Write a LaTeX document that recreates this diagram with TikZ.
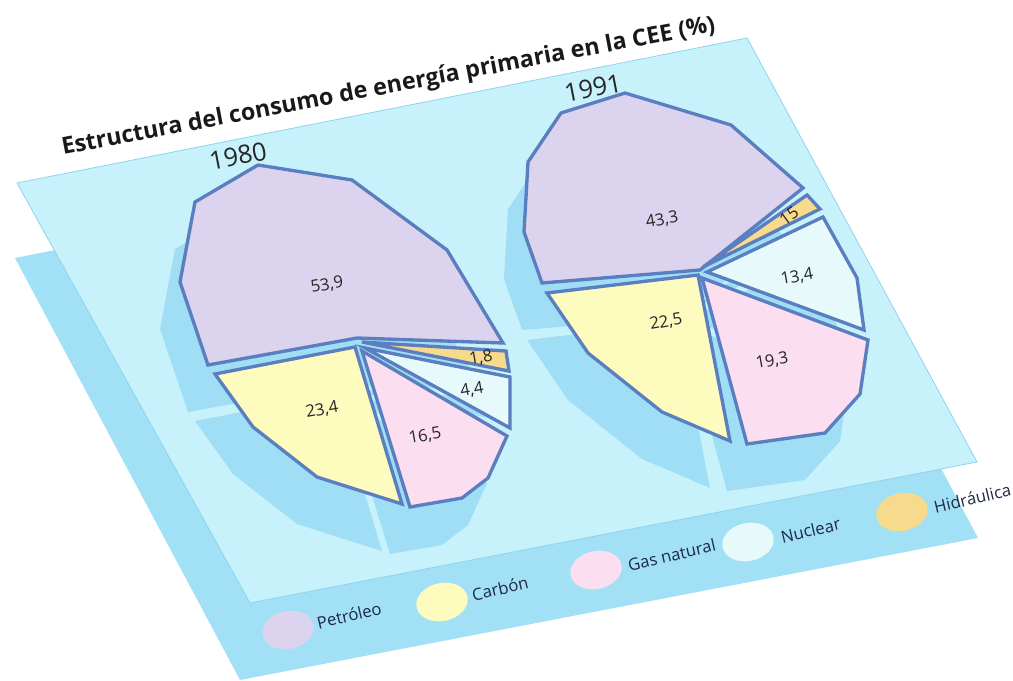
\documentclass[tikz,border=0pt]{standalone}
\usepackage{fontspec}
\setmainfont{Open Sans}
\definecolor{lightpl}{HTML}{C7F2FB}
\definecolor{darkpl}{HTML}{A1E0F5}
\definecolor{shadc}{HTML}{9FDEF5}
\definecolor{edgeb}{HTML}{5A7EBF}
\definecolor{petc}{HTML}{DCD3EE}
\definecolor{carc}{HTML}{FEFBBE}
\definecolor{gasc}{HTML}{FBDFF0}
\definecolor{nucc}{HTML}{E6FAFC}
\definecolor{hidc}{HTML}{F8DA8C}
\definecolor{planeedge}{HTML}{8ED4EE}
\definecolor{navy}{HTML}{1E2A44}
\begin{document}
\begin{tikzpicture}[x=0.75pt,y=-0.75pt,
  slice/.style={draw=edgeb, line width=2.5pt, line join=miter},
  shadow piece/.style={fill=shadc},
  val/.style={font=\fontsize{12.5}{14}\selectfont, text=black!85, rotate=10, inner sep=0pt},
  year/.style={font=\fontsize{19}{22}\selectfont, text=black!85, rotate=11, inner sep=0pt},
  leglabel/.style={font=\fontsize{12.5}{14}\selectfont, text=navy, rotate=13, anchor=west, inner sep=0pt},
  legdot/.style={draw=none}]
\useasboundingbox (0,0) rectangle (1013,681);
% lower (darker) plane
\fill[darkpl] (15,258) -- (752,112) -- (978,538) -- (240,680) -- cycle;
% upper (light) plane
\filldraw[fill=lightpl, draw=planeedge, line width=0.6pt] (17,183) -- (747,38) -- (977,462) -- (250,603) -- cycle;
% shadows of the pies
\begin{scope}[shift={(-20,47)}]
  \fill[shadow piece] (258,165) -- (352,180) -- (447,250) -- (503,343) -- (357,338) -- (208,365) -- (180,282) -- (195,202) -- cycle;
  \fill[shadow piece] (362,342) -- (506,351) -- (509,371) -- cycle;
  \fill[shadow piece] (365,348) -- (510,377) -- (510,428) -- cycle;
  \fill[shadow piece] (362,351) -- (507,436) -- (488,478) -- (462,498) -- (410,507) -- cycle;
  \fill[shadow piece] (355,347) -- (215,374) -- (253,427) -- (317,477) -- (402,504) -- cycle;
  \fill[shadow piece] (625,93) -- (731,125) -- (803,188) -- (700,270) -- (542,283) -- (524,232) -- (528,162) -- (561,113) -- cycle;
  \fill[shadow piece] (703,267) -- (807,195) -- (820,209) -- cycle;
  \fill[shadow piece] (707,272) -- (823,217) -- (857,278) -- (864,330) -- cycle;
  \fill[shadow piece] (702,278) -- (868,340) -- (860,394) -- (825,433) -- (747,444) -- cycle;
  \fill[shadow piece] (698,275) -- (547,293) -- (588,353) -- (662,412) -- (730,441) -- cycle;
\end{scope}
% 1980 pie
\path[slice, fill=petc] (258,165) -- (352,180) -- (447,250) -- (503,343) -- (357,338) -- (208,365) -- (180,282) -- (195,202) -- cycle;
\path[slice, fill=hidc] (362,342) -- (506,351) -- (509,371) -- cycle;
\path[slice, fill=nucc] (365,348) -- (510,377) -- (510,428) -- cycle;
\path[slice, fill=gasc] (362,351) -- (507,436) -- (488,478) -- (462,498) -- (410,507) -- cycle;
\path[slice, fill=carc] (355,347) -- (215,374) -- (253,427) -- (317,477) -- (402,504) -- cycle;
% 1991 pie
\path[slice, fill=petc] (625,93) -- (731,125) -- (803,188) -- (700,270) -- (542,283) -- (524,232) -- (528,162) -- (561,113) -- cycle;
\path[slice, fill=hidc] (703,267) -- (807,195) -- (820,209) -- cycle;
\path[slice, fill=nucc] (707,272) -- (823,217) -- (857,278) -- (864,330) -- cycle;
\path[slice, fill=gasc] (702,278) -- (868,340) -- (860,394) -- (825,433) -- (747,444) -- cycle;
\path[slice, fill=carc] (698,275) -- (547,293) -- (588,353) -- (662,412) -- (730,441) -- cycle;
% title and years
\node[font=\fontsize{17.5}{20}\selectfont\bfseries, text=black!90, rotate=10.7, anchor=base west, inner sep=0pt] (title) at (63,155) {Estructura del consumo de energía primaria en la CEE (\%)};
\node[year] (y1980) at (238,156) {1980};
\node[year] (y1991) at (593,88) {1991};
% values
\node[val] (v1) at (327,285) {53,9};
\node[val] (v2) at (322,410) {23,4};
\node[val] (v3) at (425,436) {16,5};
\node[val] (v4) at (472,390) {4,4};
\node[val] (v5) at (481,358) {1,8};
\node[val] (w1) at (662,220) {43,3};
\node[val, rotate=26] (w2) at (789,216) {15};
\node[val] (w3) at (797,277) {13,4};
\node[val] (w4) at (666,322) {22,5};
\node[val] (w5) at (772,361) {19,3};
% legend
\fill[petc, rotate around={12:(288,630)}] (288,630) ellipse [x radius=26, y radius=19];
\fill[carc, rotate around={12:(442,602)}] (442,602) ellipse [x radius=26, y radius=19];
\fill[gasc, rotate around={12:(596,570)}] (596,570) ellipse [x radius=26, y radius=19];
\fill[nucc, rotate around={12:(748,542)}] (748,542) ellipse [x radius=26, y radius=19];
\fill[hidc, rotate around={12:(902,512)}] (902,512) ellipse [x radius=26, y radius=19];
\node[leglabel] (lp) at (317,623) {Petróleo};
\node[leglabel] (lc) at (472,595) {Carbón};
\node[leglabel] (lg) at (628,565) {Gas natural};
\node[leglabel] (ln) at (781,537) {Nuclear};
\node[leglabel] (lh) at (934,507) {Hidráulica};
\end{tikzpicture}
\end{document}
